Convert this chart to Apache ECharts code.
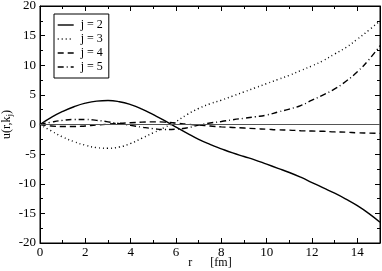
<!DOCTYPE html>
<html><head><meta charset="utf-8">
<script src="https://cdn.jsdelivr.net/npm/echarts@6/dist/echarts.min.js"></script>
<style>html,body{margin:0;padding:0;background:#fff}#c{width:382px;height:271px}</style>
</head><body><div id="c"></div>
<script>
var rVals = [0,0.5,1,1.5,2,2.5,3,3.5,4,4.5,5,5.5,6,6.5,7,7.5,8,8.5,9,9.5,10,10.5,11,11.5,12,12.5,13,13.5,14,14.5,15];
var uJ2 = [0,1.2,2.2,3.0,3.6,3.95,4.05,3.85,3.35,2.6,1.65,0.65,-0.45,-1.5,-2.5,-3.35,-4.1,-4.8,-5.4,-6.0,-6.7,-7.4,-8.1,-8.9,-9.8,-10.7,-11.6,-12.6,-13.7,-15.0,-16.5];
var uJ3 = [0,-1.1,-2.1,-2.9,-3.5,-3.9,-4.0,-3.8,-3.2,-2.3,-1.4,-0.5,0.5,1.7,2.7,3.5,4.1,4.8,5.5,6.2,6.9,7.6,8.3,9.1,9.9,10.8,11.9,13.0,14.4,15.9,17.5];
var uJ4 = [0,-0.25,-0.35,-0.35,-0.25,-0.1,0.05,0.2,0.3,0.4,0.45,0.4,0.25,0.05,-0.1,-0.25,-0.4,-0.5,-0.6,-0.7,-0.8,-0.9,-0.95,-1.05,-1.1,-1.15,-1.25,-1.3,-1.4,-1.45,-1.5];
var uJ5 = [0,0.4,0.7,0.85,0.85,0.7,0.45,0.15,-0.15,-0.45,-0.7,-0.85,-0.8,-0.55,-0.1,0.25,0.5,0.8,1.05,1.3,1.6,2.1,2.6,3.2,4.1,5.0,6.0,7.3,8.9,10.9,13.3];
var seriesNames = ['j = 2','j = 3','j = 4','j = 5'];

function pairs(ys){ return rVals.map(function(r,i){return [r, ys[i]];}); }
var font = 'Liberation Serif';
var dashes = ['solid',[1,3],[6,4],[6,3,1,3]];
var data = [uJ2,uJ3,uJ4,uJ5];
var series = data.map(function(d,i){
  var s = {name: seriesNames[i], type:'line', data: pairs(d), smooth:true, showSymbol:false, symbol:'none',
    lineStyle:{color:'#000', width: 1.4, type: dashes[i]}, itemStyle:{color:'#000'}, z: 3};
  if(i===0){ s.markLine = {silent:true, symbol:'none', label:{show:false}, lineStyle:{color:'#555', width:1, type:'solid'}, data:[{yAxis:0}]}; }
  return s;
});
function ax(extra){
  var a = {
    type:'value',
    axisLine:{show:true, onZero:false, lineStyle:{color:'#000', width:1}},
    axisTick:{show:true, inside:true, length:5, lineStyle:{color:'#000'}},
    minorTick:{show:true, splitNumber:2, length:3, lineStyle:{color:'#000'}},
    splitLine:{show:false},
    nameMoveOverlap:false
  };
  for (var k in extra) a[k] = extra[k];
  return a;
}
var chart = echarts.init(document.getElementById('c'));
chart.setOption({
  animation:false,
  backgroundColor:'#fff',
  grid:{left:40, right:2, top:6, bottom:28, containLabel:false, outerBoundsMode:'none', show:true, borderColor:'#000', borderWidth:1},
  legend:{orient:'vertical', left:54, top:14, data:seriesNames, itemWidth:16, itemHeight:10, itemGap:2,
    borderColor:'#000', borderWidth:1, padding:[5,6,5,3], backgroundColor:'#fff',
    itemStyle:{opacity:0}, lineStyle:{type:'inherit', width:1.4, color:'#000'},
    textStyle:{fontFamily:font, fontSize:12, color:'#000', padding:[0,0,0,2]}},
  xAxis:[
    ax({min:0, max:15, interval:2, position:'bottom',
      axisLabel:{fontFamily:font, fontSize:13, color:'#000', margin:3, showMaxLabel:false},
      name:'r      [fm]', nameLocation:'middle', nameGap:14,
      nameTextStyle:{fontFamily:font, fontSize:12, color:'#000'}}),
    ax({min:0, max:15, interval:2, position:'top', axisLabel:{show:false}})
  ],
  yAxis:[
    ax({min:-20, max:20, interval:5, position:'left',
      axisLabel:{fontFamily:font, fontSize:13, color:'#000', margin:4},
      name:'u(r,k{s|j})', nameLocation:'middle', nameGap:26, nameRotate:90,
      nameTextStyle:{fontFamily:font, fontSize:12, color:'#000', rich:{s:{fontFamily:font, fontSize:9, verticalAlign:'bottom', padding:[6,0,0,0]}}}}),
    ax({min:-20, max:20, interval:5, position:'right', axisLabel:{show:false}})
  ],
  series: series
});
</script></body></html>
